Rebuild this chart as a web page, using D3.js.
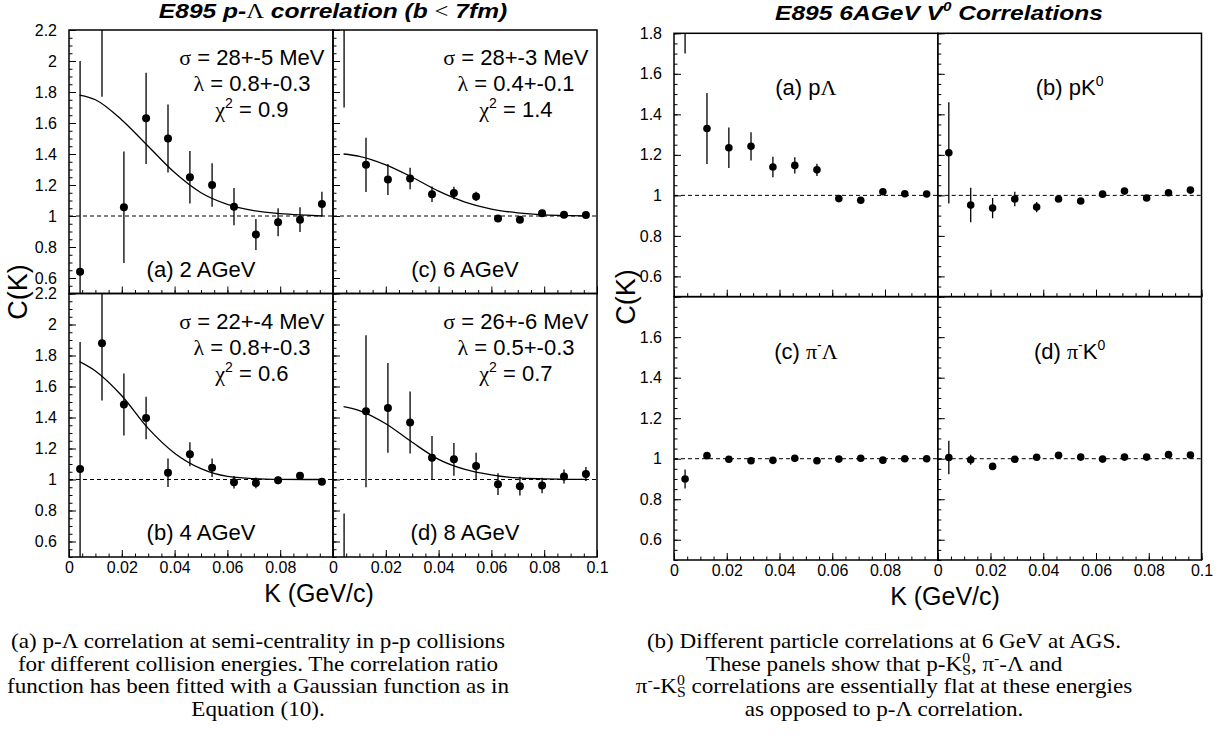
<!DOCTYPE html>
<html>
<head>
<meta charset="utf-8">
<script src="https://cdn.jsdelivr.net/npm/d3@7"></script>
<style>
body { margin: 0; background: #fff; }
svg { display: block; }
text { font-family: "Liberation Sans", Arial, sans-serif; fill: #000; }
.serif { font-family: "Liberation Serif", "Times New Roman", serif; }
</style>
</head>
<body>
<svg id="chart" width="1231" height="746"></svg>
<script>
// bin centres in K (GeV/c), same for every panel
const kBins = [0.0042, 0.0125, 0.0208, 0.0292, 0.0375, 0.0458, 0.0542, 0.0625, 0.0708, 0.0792, 0.0875, 0.0958];

// p-Lambda correlation, b < 7fm
const c2AGeV = [0.64, 2.5, 1.056, 1.63, 1.50, 1.25, 1.20, 1.06, 0.88, 0.96, 0.976, 1.078];
const e2AGeV = [1.36, 0.73, 0.36, 0.295, 0.22, 0.17, 0.14, 0.12, 0.10, 0.09, 0.08, 0.078];
const c4AGeV = [1.067, 1.879, 1.484, 1.397, 1.043, 1.163, 1.076, 0.982, 0.978, 0.995, 1.024, 0.985];
const e4AGeV = [0.82, 0.37, 0.2, 0.137, 0.092, 0.078, 0.06, 0.04, 0.035, 0.025, 0.025, 0.02];
const c6AGeV = [2.6, 1.33, 1.235, 1.242, 1.14, 1.148, 1.126, 0.984, 0.976, 1.018, 1.008, 1.007];
const e6AGeV = [0.9, 0.175, 0.1, 0.07, 0.05, 0.04, 0.03, 0.015, 0.015, 0.01, 0.01, 0.01];
const c8AGeV = [0.3, 1.44, 1.462, 1.368, 1.14, 1.13, 1.087, 0.97, 0.957, 0.962, 1.02, 1.036];
const e8AGeV = [0.48, 0.49, 0.29, 0.2, 0.14, 0.105, 0.085, 0.07, 0.06, 0.05, 0.045, 0.045];

// gaussian fits
const fitK = [0.004, 0.01, 0.02, 0.03, 0.04, 0.05, 0.06, 0.07, 0.08, 0.09, 0.096];
const fit2AGeV = [1.78, 1.75, 1.62, 1.45, 1.28, 1.15, 1.075, 1.035, 1.015, 1.005, 1.0];
const fit4AGeV = [1.76, 1.70, 1.54, 1.33, 1.17, 1.07, 1.02, 1.006, 1.001, 1.0, 1.0];
const fit6AGeV = [1.40, 1.385, 1.33, 1.25, 1.16, 1.09, 1.045, 1.02, 1.007, 1.002, 1.0];
const fit8AGeV = [1.47, 1.445, 1.36, 1.24, 1.13, 1.065, 1.03, 1.01, 1.004, 1.001, 1.0];
const fitSigma = ["28+-5", "22+-4", "28+-3", "26+-6"];
const fitLambda = ["0.8+-0.3", "0.8+-0.3", "0.4+-0.1", "0.5+-0.3"];
const fitChi2 = ["0.9", "0.6", "1.4", "0.7"];

// V0 correlations at 6 AGeV
const cPK0 = [1.21, 0.952, 0.937, 0.982, 0.942, 0.982, 0.972, 1.006, 1.021, 0.987, 1.013, 1.026];
const ePK0 = [0.25, 0.085, 0.05, 0.036, 0.025, 0.015, 0.015, 0.012, 0.01, 0.01, 0.01, 0.01];
const cPiLambda = [0.90, 1.015, 0.997, 0.990, 0.992, 1.002, 0.990, 0.998, 1.002, 0.993, 1.0, 1.0];
const ePiLambda = [0.047, 0.012, 0.01, 0.01, 0.01, 0.01, 0.01, 0.01, 0.01, 0.01, 0.01, 0.01];
const cPiK0 = [1.006, 0.995, 0.962, 0.997, 1.007, 1.017, 1.008, 0.998, 1.008, 1.008, 1.02, 1.018];
const ePiK0 = [0.083, 0.025, 0.015, 0.01, 0.01, 0.01, 0.01, 0.01, 0.01, 0.01, 0.01, 0.01];

const xTicks = [0, 0.02, 0.04, 0.06, 0.08, 0.1];
const yTicksLeft = [0.6, 0.8, 1, 1.2, 1.4, 1.6, 1.8, 2, 2.2];
const yTicksRight = [0.6, 0.8, 1, 1.2, 1.4, 1.6, 1.8];

const svg = d3.select("#chart");
const fmt = d => String(+d.toFixed(3));

function drawPanel(p) {
    const x = d3.scaleLinear().domain([0, 0.1]).range([p.x0, p.x0 + p.w]);
    const y = d3.scaleLinear().domain(p.yDomain).range([p.y0 + p.h, p.y0]);
    const clipId = "clip-" + p.id;
    svg.append("clipPath").attr("id", clipId)
        .append("rect")
        .attr("x", p.x0).attr("y", p.y0)
        .attr("width", p.w).attr("height", p.h);

    const g = svg.append("g");

    // reference line at C = 1
    g.append("line")
        .attr("x1", p.x0).attr("x2", p.x0 + p.w)
        .attr("y1", y(1)).attr("y2", y(1))
        .attr("stroke", "#000").attr("stroke-width", 1)
        .attr("stroke-dasharray", "4,3");

    const inner = g.append("g").attr("clip-path", `url(#${clipId})`);

    if (p.fit) {
        inner.append("path")
            .datum(d3.zip(fitK, p.fit))
            .attr("fill", "none").attr("stroke", "#000").attr("stroke-width", 1.3)
            .attr("d", d3.line().x(d => x(d[0])).y(d => y(d[1])).curve(d3.curveMonotoneX));
    }

    const pts = d3.zip(kBins, p.c, p.e);
    inner.selectAll("line.err").data(pts).join("line")
        .attr("class", "err")
        .attr("x1", d => x(d[0])).attr("x2", d => x(d[0]))
        .attr("y1", d => y(d[1] - d[2])).attr("y2", d => y(d[1] + d[2]))
        .attr("stroke", "#000").attr("stroke-width", 1.3);
    inner.selectAll("circle").data(pts).join("circle")
        .attr("cx", d => x(d[0])).attr("cy", d => y(d[1]))
        .attr("r", p.r).attr("fill", "#000");

    // ROOT style ticks, drawn inside the frame
    const xMinor = d3.range(0, 0.1001, 0.005);
    const yMinor = d3.range(Math.ceil(p.yDomain[0] / 0.05) * 0.05, p.yDomain[1] + 0.001, 0.05);
    const yMajor = d3.range(0.6, p.yDomain[1] + 0.001, 0.2);

    g.append("g").attr("transform", `translate(0,${p.y0 + p.h})`)
        .call(d3.axisBottom(x).tickValues(xMinor).tickSize(-3.5).tickFormat(""))
        .call(a => a.select(".domain").remove());
    g.append("g").attr("transform", `translate(${p.x0},0)`)
        .call(d3.axisLeft(y).tickValues(yMinor).tickSize(-3.5).tickFormat(""))
        .call(a => a.select(".domain").remove());

    const xa = g.append("g").attr("transform", `translate(0,${p.y0 + p.h})`)
        .call(d3.axisBottom(x).tickValues(xTicks).tickSize(-7).tickPadding(5)
            .tickFormat(d => p.xLabels && p.xLabels.includes(d) ? fmt(d) : ""))
        .call(a => a.select(".domain").remove());
    const ya = g.append("g").attr("transform", `translate(${p.x0},0)`)
        .call(d3.axisLeft(y).tickValues(yMajor).tickSize(-7).tickPadding(12)
            .tickFormat(d => p.yLabels && p.yLabels.some(v => Math.abs(v - d) < 1e-6) ? fmt(d) : ""))
        .call(a => a.select(".domain").remove());
    [xa, ya].forEach(a => a.attr("font-size", 16).attr("font-family", '"Liberation Sans", Arial, sans-serif'));

    g.append("rect")
        .attr("x", p.x0).attr("y", p.y0)
        .attr("width", p.w).attr("height", p.h)
        .attr("fill", "none").attr("stroke", "#000").attr("stroke-width", 1.5);

    return {x, y, g};
}

// ---------- left figure: p-Lambda vs beam energy ----------
const L = {x0: 69, y0: 30, w: 264, h: 263.5};
const leftPanels = [
    {id: "a", col: 0, row: 0, c: c2AGeV, e: e2AGeV, fit: fit2AGeV, k: 0, label: "(a) 2 AGeV"},
    {id: "b", col: 0, row: 1, c: c4AGeV, e: e4AGeV, fit: fit4AGeV, k: 1, label: "(b) 4 AGeV"},
    {id: "c", col: 1, row: 0, c: c6AGeV, e: e6AGeV, fit: fit6AGeV, k: 2, label: "(c) 6 AGeV"},
    {id: "d", col: 1, row: 1, c: c8AGeV, e: e8AGeV, fit: fit8AGeV, k: 3, label: "(d) 8 AGeV"}
];
leftPanels.forEach(p => {
    const x0 = L.x0 + p.col * L.w, y0 = L.y0 + p.row * L.h;
    const {g} = drawPanel({
        id: p.id, x0, y0, w: L.w, h: L.h, yDomain: [0.5, 2.2],
        c: p.c, e: p.e, fit: p.fit, r: 4,
        xLabels: p.row === 1 ? (p.col === 0 ? xTicks.slice(0, 5) : xTicks) : null,
        yLabels: p.col === 0 ? yTicksLeft : null
    });
    const tx = x0 + L.w * 0.693;
    const t1 = g.append("text").attr("x", tx).attr("y", y0 + 35).attr("text-anchor", "middle").attr("font-size", 22);
    t1.append("tspan").attr("class", "serif").text("σ");
    t1.append("tspan").text(` = ${fitSigma[p.k]} MeV`);
    const t2 = g.append("text").attr("x", tx).attr("y", y0 + 61).attr("text-anchor", "middle").attr("font-size", 22);
    t2.append("tspan").attr("class", "serif").text("λ");
    t2.append("tspan").text(` = ${fitLambda[p.k]}`);
    const t3 = g.append("text").attr("x", tx).attr("y", y0 + 87).attr("text-anchor", "middle").attr("font-size", 22);
    t3.append("tspan").attr("class", "serif").text("χ");
    t3.append("tspan").attr("font-size", 14).attr("dy", -9).text("2");
    t3.append("tspan").attr("dy", 9).text(` = ${fitChi2[p.k]}`);
    g.append("text").attr("x", x0 + L.w / 2).attr("y", y0 + L.h - 17)
        .attr("text-anchor", "middle").attr("font-size", 22).text(p.label);
});

// ---------- right figure: V0 correlations ----------
const R = {x0: 674, y0: 33.3, w: 263.75, h: 263.35};
const rightPanels = [
    {id: "ra", col: 0, row: 0, c: c6AGeV, e: e6AGeV, lab: ["(a) p", "Λ", null, null]},
    {id: "rb", col: 1, row: 0, c: cPK0, e: ePK0, lab: ["(b) pK", null, "0", null]},
    {id: "rc", col: 0, row: 1, c: cPiLambda, e: ePiLambda, lab: ["(c) ", "π", "-", "Λ"]},
    {id: "rd", col: 1, row: 1, c: cPiK0, e: ePiK0, lab: ["(d) ", "π", "-", "K0"]}
];
rightPanels.forEach(p => {
    const x0 = R.x0 + p.col * R.w, y0 = R.y0 + p.row * R.h;
    const {g} = drawPanel({
        id: p.id, x0, y0, w: R.w, h: R.h, yDomain: [0.5, 1.8],
        c: p.c, e: p.e, fit: null, r: 3.8,
        xLabels: p.row === 1 ? (p.col === 0 ? xTicks.slice(0, 5) : xTicks) : null,
        yLabels: p.col === 0 ? (p.row === 0 ? yTicksRight : yTicksRight.slice(0, 6)) : null
    });
    const t = g.append("text").attr("x", x0 + R.w / 2).attr("y", y0 + 62)
        .attr("text-anchor", "middle").attr("font-size", 22);
    const [a, greek, sup, rest] = p.lab;
    t.append("tspan").text(a);
    if (greek) t.append("tspan").attr("class", "serif").text(greek);
    if (sup) t.append("tspan").attr("font-size", 14).attr("dy", -9).text(sup);
    if (rest === "Λ") t.append("tspan").attr("class", "serif").attr("dy", 9).text("Λ");
    if (rest === "K0") {
        t.append("tspan").attr("dy", 9).text("K");
        t.append("tspan").attr("font-size", 14).attr("dy", -9).text("0");
    }
});

// ---------- titles and axis titles ----------
// titles are set wide, so the font is stretched horizontally
const t1 = svg.append("g").attr("transform", "translate(333,18) scale(1.17,1)")
    .append("text").attr("text-anchor", "middle")
    .attr("font-size", 21).attr("font-weight", "bold").attr("font-style", "italic");
t1.append("tspan").text("E895 p-");
t1.append("tspan").attr("class", "serif").attr("font-style", "normal").attr("font-weight", "normal").text("Λ");
t1.append("tspan").text(" correlation (b ");
t1.append("tspan").attr("class", "serif").attr("font-style", "normal").attr("font-weight", "normal").text("<");
t1.append("tspan").text(" 7fm)");

const t2 = svg.append("g").attr("transform", "translate(939,19.5) scale(1.17,1)")
    .append("text").attr("text-anchor", "middle")
    .attr("font-size", 21).attr("font-weight", "bold").attr("font-style", "italic");
t2.append("tspan").text("E895 6AGeV V");
t2.append("tspan").attr("font-size", 13).attr("dy", -9).text("0");
t2.append("tspan").attr("dy", 9).text(" Correlations");

[[27, 292], [635, 297]].forEach(([x, y]) => {
    svg.append("text").attr("transform", `translate(${x},${y}) rotate(-90)`)
        .attr("text-anchor", "middle").attr("font-size", 27).text("C(K)");
});
[[319, 602], [945, 605]].forEach(([x, y]) => {
    svg.append("text").attr("x", x).attr("y", y)
        .attr("text-anchor", "middle").attr("font-size", 25).text("K (GeV/c)");
});

// ---------- captions ----------
const capLeft = [
    [["(a) p-Λ correlation at semi-centrality in p-p collisions"]],
    [["for different collision energies. The correlation ratio"]],
    [["function has been fitted with a Gaussian function as in"]],
    [["Equation (10)."]]
];
const capRight = [
    [["(b) Different particle correlations at 6 GeV at AGS."]],
    [["These panels show that p-K"], ["0", "sup"], ["S", "sub"], [", π"], ["-", "sup"], ["-Λ and"]],
    [["π"], ["-", "sup"], ["-K"], ["0", "sup"], ["S", "sub"], [" correlations are essentially flat at these energies"]],
    [["as opposed to p-Λ correlation."]]
];
const capY = [648, 670.5, 693, 715.5];
function caption(lines, cx) {
    lines.forEach((parts, i) => {
        const t = svg.append("g").attr("transform", `translate(${cx},${capY[i]}) scale(1.05,1)`)
            .append("text").attr("class", "serif")
            .attr("text-anchor", "middle").attr("font-size", 22);
        let shift = 0;
        parts.forEach(([s, kind]) => {
            const ts = t.append("tspan").text(s);
            let target = 0;
            if (kind === "sup") { target = -8; ts.attr("font-size", 15); }
            if (kind === "sub") { target = 4; ts.attr("font-size", 15).attr("dx", -7.5); }
            ts.attr("dy", target - shift);
            shift = target;
        });
    });
}
caption(capLeft, 258);
caption(capRight, 884);
</script>
</body>
</html>
